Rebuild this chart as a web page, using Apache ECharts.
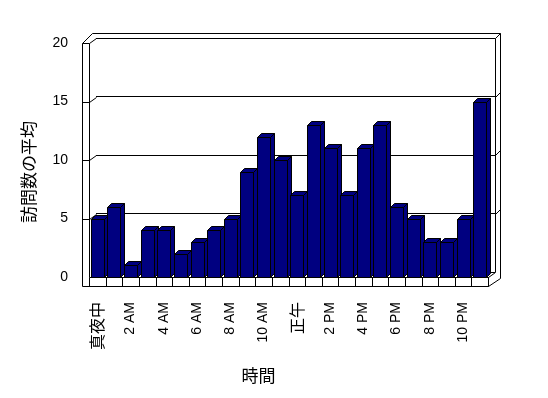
<!DOCTYPE html>
<html><head><meta charset="utf-8">
<script src="https://cdn.jsdelivr.net/npm/echarts@6/dist/echarts.min.js"></script>
<style>html,body{margin:0;padding:0;background:#fff}#c{width:548px;height:398px}</style>
</head><body><div id="c"></div>
<script>
const categories = ['真夜中','1 AM','2 AM','3 AM','4 AM','5 AM','6 AM','7 AM','8 AM','9 AM','10 AM','11 AM','正午','1 PM','2 PM','3 PM','4 PM','5 PM','6 PM','7 PM','8 PM','9 PM','10 PM','11 PM'];
const visits = [5, 6, 1, 4, 4, 2, 3, 4, 5, 9, 12, 10, 7, 13, 11, 7, 11, 13, 6, 5, 3, 3, 5, 15];
const yTicks = [0, 5, 10, 15, 20];
const yTitle = '訪問数の平均';
const xTitle = '時間';

const FONT = '"Liberation Sans", Arial, sans-serif';
const CJK = '"Noto Sans CJK JP", sans-serif';
const FL = 89, FT = 43, FR = 488, FB = 277;   // front plot box
const DX = 7, DY = -5;                        // wall depth
const BDX = 4, BDY = -4;                      // bar depth
const c = (v) => Math.round(v) + 0.5;        // crisp 1px lines
const chart = echarts.init(document.getElementById('c'), null, {renderer: 'canvas'});

function renderBar(params, api) {
  const i = api.value(0), v = api.value(1);
  const top = api.coord([i, v]);
  const base = api.coord([i, 0]);
  const w = Math.round(api.size([1, 0])[0] * 0.78);
  const l = c(top[0] - w / 2), r = l + w, t = c(top[1]), b = c(base[1]);
  const st = {fill: '#000080', stroke: '#000', lineWidth: 1};
  return {type: 'group', children: [
    {type: 'polygon', shape: {points: [[r, t], [r + BDX, t + BDY], [r + BDX, b + BDY], [r, b]]}, style: st},
    {type: 'polygon', shape: {points: [[l, t], [l + BDX, t + BDY], [r + BDX, t + BDY], [r, t]]}, style: st},
    {type: 'rect', shape: {x: l, y: t, width: w, height: b - t}, style: st}
  ]};
}

const option = {
  animation: false,
  backgroundColor: '#fff',
  grid: [
    {left: FL, top: FT, width: FR - FL, height: FB - FT},
    {left: FL + DX, top: FT + DY, width: FR - FL, height: FB - FT}
  ],
  xAxis: [
    {type: 'category', gridIndex: 0, data: categories, boundaryGap: true,
     axisLine: {show: false}, axisTick: {show: false},
     axisLabel: {interval: 1, rotate: 90, margin: 25, fontFamily: FONT, fontSize: 14, color: '#000',
       formatter: function (s) { return /[^\x00-\x7f]/.test(s) ? '{c|' + s + '}' : s; },
       rich: {c: {fontFamily: CJK, fontSize: 16, color: '#000'}}},
     name: xTitle, nameLocation: 'middle', nameGap: 90,
     nameTextStyle: {fontFamily: CJK, fontSize: 17, color: '#000', padding: [0, 60, 0, 0]}},
    {type: 'category', gridIndex: 1, data: categories, show: false}
  ],
  yAxis: [
    {type: 'value', gridIndex: 0, min: yTicks[0], max: yTicks[yTicks.length - 1], interval: 5,
     axisLine: {show: false}, axisTick: {show: false}, splitLine: {show: false},
     axisLabel: {margin: 21, fontFamily: FONT, fontSize: 14, color: '#000'},
     name: yTitle, nameLocation: 'middle', nameGap: 52,
     nameTextStyle: {fontFamily: CJK, fontSize: 17, color: '#000', padding: [0, 24, 0, 0]}},
    {type: 'value', gridIndex: 1, min: yTicks[0], max: yTicks[yTicks.length - 1], interval: 5,
     axisLine: {show: false}, axisTick: {show: false}, axisLabel: {show: false},
     splitLine: {show: true, lineStyle: {color: '#000', width: 1}}}
  ],
  series: [{
    type: 'custom', xAxisIndex: 0, yAxisIndex: 0, z: 5,
    renderItem: renderBar,
    data: visits.map((v, i) => [i, v])
  }]
};
chart.setOption(option);

// frame (walls and floor) from the axes' own pixel positions
const g = [];
const ln = (pts) => g.push({type: 'polyline', z: 3,
  shape: {points: pts.map(p => [c(p[0]), c(p[1])])}, style: {stroke: '#000', lineWidth: 1, fill: null}});
const n = categories.length;
const yF = (v) => chart.convertToPixel({yAxisIndex: 0}, v);
const yB = (v) => chart.convertToPixel({yAxisIndex: 1}, v);
const xL = FL - 7, BR = FR + DX, OR = BR + 5, OT = FT + DY - 5;
ln([[xL, FB + 9], [FR, FB + 9], [OR, FB + 9 - 8], [OR, OT], [xL + 10, OT], [xL, FT], [xL, FB + 9]]);
ln([[xL, FT], [FL, FT], [FL, FB]]);
ln([[FL, FT], [FL + DX, FT + DY], [BR, FT + DY], [OR, OT]]);
ln([[BR, FT + DY], [BR, FB + DY]]);
ln([[FL, FB], [FR, FB], [FR, FB + 9]]);
ln([[FR, FB], [BR, FB + DY]]);
for (let k = 0; k <= n; k++) {
  const x = FL + (FR - FL) * k / n;
  ln([[x, FB], [x, FB + 9]]);
}
yTicks.forEach(v => {
  const yf = yF(v), yb = yB(v);
  if (v > 0 && v < 20) {
    ln([[xL, yf], [FL, yf], [FL + DX, yb]]);
    ln([[BR, yb], [OR, yb - 5]]);
  }
});
chart.setOption({graphic: g});
</script></body></html>
